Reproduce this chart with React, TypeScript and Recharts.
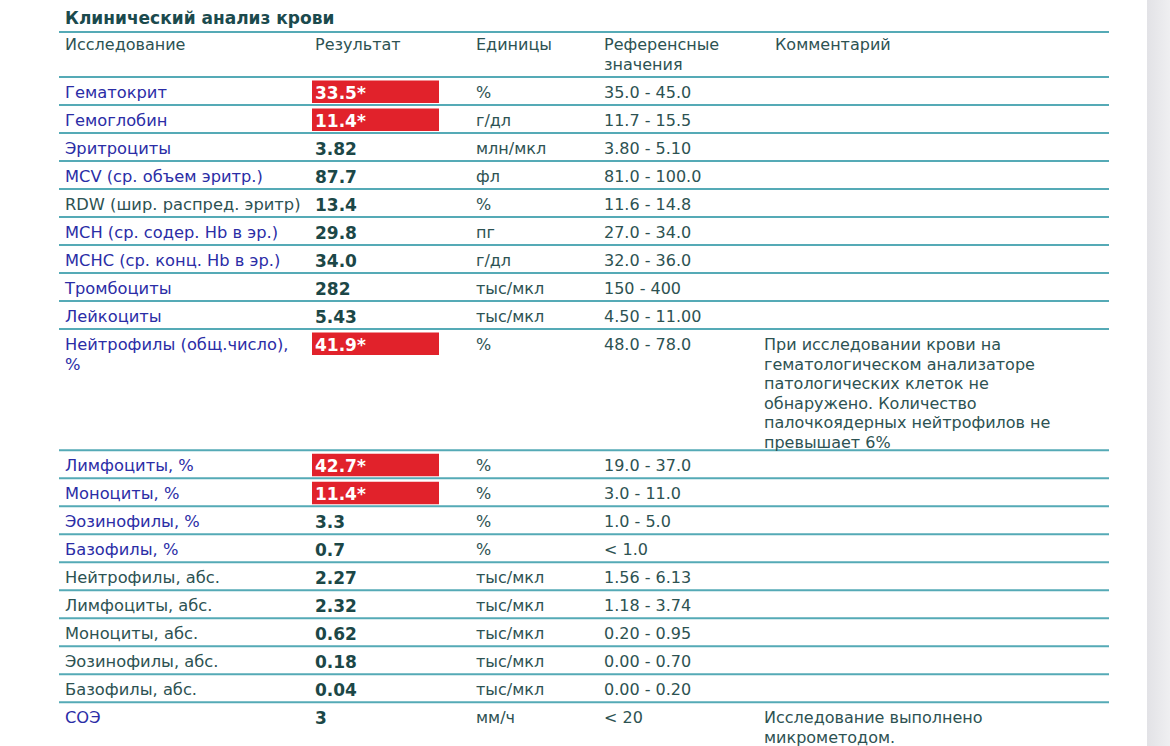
import React from 'react';
import { ScatterChart, Scatter, XAxis, YAxis, ReferenceLine } from 'recharts';

// rows of the blood test table
const tests = [
  'Гематокрит', 'Гемоглобин', 'Эритроциты', 'MCV (ср. объем эритр.)', 'RDW (шир. распред. эритр)',
  'MCH (ср. содер. Hb в эр.)', 'MCHC (ср. конц. Hb в эр.)', 'Тромбоциты', 'Лейкоциты',
  'Нейтрофилы (общ.число),\n%', 'Лимфоциты, %', 'Моноциты, %', 'Эозинофилы, %', 'Базофилы, %',
  'Нейтрофилы, абс.', 'Лимфоциты, абс.', 'Моноциты, абс.', 'Эозинофилы, абс.', 'Базофилы, абс.', 'СОЭ',
];
const results = [
  '33.5', '11.4', '3.82', '87.7', '13.4', '29.8', '34.0', '282', '5.43',
  '41.9', '42.7', '11.4', '3.3', '0.7', '2.27', '2.32', '0.62', '0.18', '0.04', '3',
];
const outOfRange = [
  true, true, false, false, false, false, false, false, false,
  true, true, true, false, false, false, false, false, false, false, false,
];
const units = [
  '%', 'г/дл', 'млн/мкл', 'фл', '%', 'пг', 'г/дл', 'тыс/мкл', 'тыс/мкл',
  '%', '%', '%', '%', '%', 'тыс/мкл', 'тыс/мкл', 'тыс/мкл', 'тыс/мкл', 'тыс/мкл', 'мм/ч',
];
const references = [
  '35.0 - 45.0', '11.7 - 15.5', '3.80 - 5.10', '81.0 - 100.0', '11.6 - 14.8', '27.0 - 34.0',
  '32.0 - 36.0', '150 - 400', '4.50 - 11.00', '48.0 - 78.0', '19.0 - 37.0', '3.0 - 11.0',
  '1.0 - 5.0', '< 1.0', '1.56 - 6.13', '1.18 - 3.74', '0.20 - 0.95', '0.00 - 0.70', '0.00 - 0.20', '< 20',
];
const comments: string[][] = [
  [], [], [], [], [], [], [], [], [],
  ['При исследовании крови на', 'гематологическом анализаторе', 'патологических клеток не',
    'обнаружено. Количество', 'палочкоядерных нейтрофилов не', 'превышает 6%'],
  [], [], [], [], [], [], [], [], [],
  ['Исследование выполнено', 'микрометодом.'],
];
// names printed in blue in the original report
const blueName = [
  true, true, true, true, false, true, true, true, true,
  true, true, true, true, true, false, false, false, false, false, true,
];
const headers = ['Исследование', 'Результат', 'Единицы', 'Референсные\nзначения', 'Комментарий'];
const title = 'Клинический анализ крови';

const ROW = 28;
const LINE = 19.6;
const FONT = '"DejaVu Sans", Verdana, sans-serif';
const TEAL_LINE = '#55aab6';
const TEXT = '#2d5252';
const BLUE = '#2b2da6';
const VALUE = '#1c4747';
const RED = '#e1222b';
const W = 1170;
const H = 760;
const TOP = 77;
const LEFT = 59;
const RIGHT = 1109;

// column offsets from the table's left edge
const COL = { name: 6, result: 256, box: 253, unit: 417, ref: 545, comment: 705, headComment: 716 };

const spanOf = (i: number) => {
  const lines = Math.max(comments[i].length, tests[i].split('\n').length, 1);
  return 1 + (lines - 1) * ((LINE - 0.95) / ROW);
};

let acc = 0;
const rows = tests.map((name, i) => {
  const span = spanOf(i);
  const row = { x: 0, mid: acc + span / 2, span, idx: i, name };
  acc += span;
  return row;
});
const total = acc;
const boundaries = rows.map((r) => r.mid + r.span / 2).filter((b) => b < total);

const RowShape = (props: any) => {
  const { cx, cy, payload } = props;
  const i = payload.idx;
  const top = cy - (payload.span * ROW) / 2;
  const y0 = top + 15.5;
  const x = cx;
  return (
    <g style={{ fontFamily: FONT }}>
      {tests[i].split('\n').map((t, k) => (
        <text key={k} x={x + COL.name} y={y0 + k * LINE} dominantBaseline="central" fontSize={16.3}
          fill={blueName[i] ? BLUE : TEXT}>{t}</text>
      ))}
      {outOfRange[i] && (
        <rect x={x + COL.box} y={top + 3.5} width={127} height={22.5} fill={RED} />
      )}
      <text x={x + COL.result} y={y0} dominantBaseline="central" fontSize={17} fontWeight="bold"
        fill={outOfRange[i] ? '#ffffff' : VALUE}>{results[i] + (outOfRange[i] ? '*' : '')}</text>
      <text x={x + COL.unit} y={y0} dominantBaseline="central" fontSize={16} fill={TEXT}>{units[i]}</text>
      <text x={x + COL.ref} y={y0} dominantBaseline="central" fontSize={16} fill={TEXT}>{references[i]}</text>
      {comments[i].map((c, k) => (
        <text key={k} x={x + COL.comment} y={y0 + k * LINE} dominantBaseline="central" fontSize={16}
          fill={TEXT}>{c}</text>
      ))}
    </g>
  );
};

const headX = [COL.name, COL.result, COL.unit, COL.ref, COL.headComment];

export default function App() {
  return (
    <div style={{ position: 'fixed', left: 0, top: 0, width: W, height: 746, overflow: 'hidden', background: '#fff' }}>
      <div style={{ position: 'absolute', left: 65, top: 8, fontFamily: FONT, fontWeight: 'bold', fontSize: 17, color: '#1b4a4d' }}>
        {title}
      </div>
      <div style={{ position: 'absolute', left: LEFT, top: 31, width: RIGHT - LEFT, height: 2, background: TEAL_LINE }} />
      {headers.map((h, k) => (
        <div key={k} style={{
          position: 'absolute', left: LEFT + headX[k], top: 34.5, fontFamily: FONT, fontSize: 16,
          color: TEXT, lineHeight: '20px', whiteSpace: 'pre',
        }}>{h}</div>
      ))}
      <div style={{ position: 'absolute', left: 1147, top: 0, width: 23, height: 746, background: 'linear-gradient(to right, #e2e2e6, #efeff1)' }} />
      <div style={{ position: 'absolute', left: 0, top: 0 }}>
        <ScatterChart width={W} height={H} margin={{ top: TOP, right: W - RIGHT, left: LEFT, bottom: H - TOP - total * ROW }}>
          <XAxis type="number" dataKey="x" domain={[0, 1]} hide />
          <YAxis type="number" dataKey="mid" domain={[0, total]} reversed hide />
          <ReferenceLine y={0} stroke={TEAL_LINE} strokeWidth={2} ifOverflow="visible" />
          {boundaries.map((b, k) => (
            <ReferenceLine key={k} y={b} stroke={TEAL_LINE} strokeWidth={2} />
          ))}
          <Scatter data={rows} shape={RowShape} isAnimationActive={false} />
        </ScatterChart>
      </div>
    </div>
  );
}
